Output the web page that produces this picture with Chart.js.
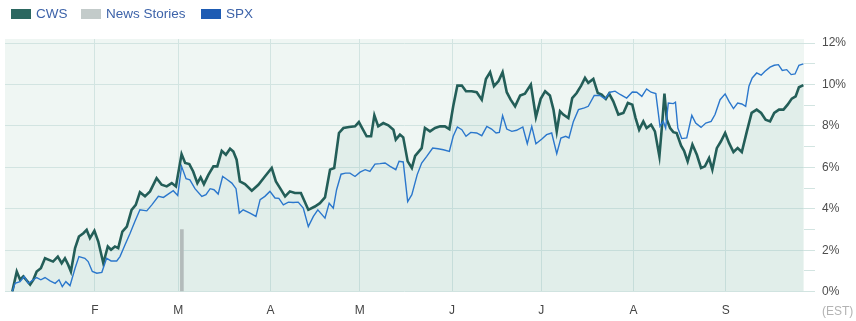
<!DOCTYPE html>
<html>
<head>
<meta charset="utf-8">
<script src="https://cdn.jsdelivr.net/npm/chart.js@4.4.1/dist/chart.umd.min.js"></script>
<style>
  body { margin: 0; background: #fff; font-family: "Liberation Sans", Arial, sans-serif; }
  #wrap { position: relative; width: 856px; height: 321px; }
  #chart { position: absolute; left: 0; top: 0; }
  .legend { position: absolute; top: 6px; left: 0; height: 16px; }
  .item { position: absolute; top: 0; font-size: 13.5px; color: #3d63a9; white-space: nowrap; }
  .item span { position: absolute; top: 3px; width: 20px; height: 10px; }
  .item b { position: absolute; top: 0; font-weight: normal; }
  #est { position: absolute; left: 822px; top: 304px; font-size: 12px; color: #b3b3b3; }
</style>
</head>
<body>
<div id="wrap">
  <canvas id="chart" width="856" height="321"></canvas>
  <div class="legend">
    <div class="item" style="left:11px"><span style="background:#2b6760"></span><b style="left:25px">CWS</b></div>
    <div class="item" style="left:81px"><span style="background:#c3cbca"></span><b style="left:25px">News Stories</b></div>
    <div class="item" style="left:201px"><span style="background:#1d5bb3"></span><b style="left:25px">SPX</b></div>
  </div>
  <div id="est">(EST)</div>
</div>
<script>
// day of year (0 = Jan 1) and % change
const cwsDays = [3.2,4.7,5.8,6.9,9.2,10.3,11.4,12.8,14.2,16.9,18.5,19.8,20.9,22.0,22.9,24.3,25.6,27.1,28.2,29.3,30.8,32.1,33.8,35.3,36.4,37.7,38.8,40.2,41.7,43.3,44.7,46.1,47.8,49.5,51.7,53.4,55.1,56.8,58.2,60.1,61.3,62.7,64.0,65.4,66.5,67.6,69.1,70.8,72.1,73.6,75.0,76.4,77.5,78.6,79.7,81.4,83.7,85.9,88.1,90.4,91.8,93.2,94.9,96.5,98.2,100.2,102.7,104.9,106.6,108.3,110.0,111.4,113.0,114.5,116.4,118.4,119.7,120.8,122.3,123.8,124.9,126.2,127.9,129.6,131.3,132.1,133.5,134.6,136.1,137.5,138.6,140.8,141.9,143.6,145.3,147.0,148.6,150.1,151.4,152.8,154.3,155.7,157.6,159.3,161.0,162.4,163.8,165.1,166.6,168.0,169.4,170.7,172.2,173.9,175.5,177.5,179.2,180.8,182.3,183.9,185.1,186.2,187.3,188.4,190.1,191.4,192.9,194.4,195.7,196.8,198.5,200.0,201.3,202.7,203.8,205.2,206.9,208.6,210.1,211.6,212.7,213.9,215.3,216.4,217.9,219.2,220.7,221.7,222.4,223.2,224.3,225.4,226.5,228.0,229.0,230.2,231.8,233.3,234.7,236.0,237.4,238.5,240.0,241.4,242.8,244.1,245.6,247.0,248.4,250.1,251.7,253.4,254.9,256.4,257.9,259.3,260.9,262.4,263.8,265.2,266.5,267.6,269.1];
const cwsValues = [0,0.97,0.58,0.73,0.34,0.58,0.97,1.13,1.61,1.45,1.69,1.37,1.61,1.29,0.97,2.1,2.66,2.82,2.98,2.58,2.94,2.42,1.37,2.18,2.02,2.18,2.1,2.9,3.14,3.95,4.19,4.8,4.6,4.84,5.48,5.16,5.08,5.24,5.08,6.64,6.21,6.16,5.8,5.24,5.52,5.19,5.64,6.05,6.05,6.8,6.61,6.9,6.77,6.37,5.32,5.19,4.87,5.16,5.56,5.97,5.32,5.0,4.6,4.84,4.76,4.76,3.95,4.11,4.27,4.55,5.89,5.97,7.66,7.9,7.95,7.98,8.19,7.9,7.5,7.5,8.51,7.98,8.14,8.03,7.82,7.34,7.58,7.45,6.29,5.97,6.55,6.93,7.9,7.74,7.9,7.98,7.98,7.85,8.95,9.95,9.95,9.68,9.68,9.63,9.27,10.27,10.6,9.92,10.16,10.6,9.63,9.27,8.95,9.47,9.56,10.0,8.43,9.31,9.68,9.47,8.79,7.74,8.71,8.55,8.38,9.35,9.59,9.95,10.32,10.08,10.27,9.59,9.52,9.31,9.56,9.19,8.55,8.63,9.11,9.03,8.38,7.82,8.22,7.9,8.06,7.74,6.53,8.22,9.56,8.3,7.9,7.7,7.66,7.05,6.8,6.29,7.1,6.61,5.97,6.05,6.45,5.89,6.93,7.26,7.66,7.18,6.74,6.93,6.74,7.74,8.63,8.79,8.63,8.3,8.22,8.63,8.79,8.79,9.03,9.32,9.43,9.87,9.97];
const spxDays = [3.2,4.1,5.8,7.2,8.6,10.3,11.4,12.8,14.2,15.9,17.6,18.9,20.0,21.2,22.6,24.3,25.6,27.6,28.7,30.1,31.6,33.3,34.9,36.4,38.3,39.4,41.1,42.8,44.4,46.1,48.4,50.1,52.3,54.0,55.6,57.3,58.8,60.1,61.6,62.9,64.6,66.9,68.3,69.7,71.0,72.4,73.9,75.5,77.0,78.4,79.5,80.8,83.1,85.1,86.5,88.1,89.8,91.5,92.8,94.3,96.0,97.6,99.3,101.0,102.7,104.4,105.9,108.3,109.7,111.1,112.2,113.7,115.2,116.7,118.4,120.1,121.8,123.4,125.1,126.8,128.5,130.2,132.1,133.2,134.6,136.1,137.5,139.3,140.8,142.5,144.5,146.3,148.1,150.1,151.4,152.8,154.3,155.7,157.3,159.3,161.0,162.7,164.3,165.8,166.9,168.0,169.4,171.1,172.7,174.8,176.3,177.8,179.2,181.2,182.8,184.5,186.2,187.6,189.2,190.3,191.8,193.5,195.5,196.8,198.8,200.7,202.4,204.1,205.8,207.5,209.7,211.6,213.1,214.8,216.4,217.9,219.5,220.9,222.0,222.8,223.7,225.4,226.1,226.9,228.2,229.9,231.6,232.9,234.7,236.3,238.1,239.4,241.1,242.8,244.1,245.6,247.0,248.4,249.7,250.8,251.9,253.4,254.9,256.2,257.9,259.3,260.7,262.0,263.5,265.0,266.3,267.6,269.1];
const spxValues = [0,0.4,0.48,0.73,0.4,0.57,0.68,0.57,0.68,0.52,0.4,0.57,0.24,0.48,0.29,1.13,1.69,1.61,1.45,0.97,0.89,0.93,1.61,1.48,1.48,1.69,2.26,2.82,3.39,3.95,3.9,4.19,4.6,4.55,4.71,4.87,4.64,6.05,5.45,5.4,4.97,4.6,4.68,4.97,4.92,4.71,5.56,5.4,5.24,4.97,3.79,3.95,3.79,3.63,4.44,4.6,4.84,4.52,4.5,4.19,4.32,4.3,4.32,4.03,3.14,3.63,3.95,3.55,4.27,4.03,4.92,5.67,5.72,5.72,5.56,5.77,5.89,5.8,6.16,6.18,6.21,6.05,5.89,6.29,6.26,4.35,4.68,5.65,6.21,6.53,6.93,6.9,6.85,6.77,7.5,7.95,7.82,7.5,7.69,7.66,7.53,7.98,7.85,7.66,7.69,8.5,7.85,7.74,7.79,7.95,7.14,7.98,7.14,7.37,7.58,7.66,6.66,7.42,7.5,7.42,8.22,8.79,8.87,8.95,9.47,9.47,9.31,9.63,9.68,9.52,9.35,9.64,9.63,9.43,9.79,9.63,9.56,7.98,8.22,7.9,9.11,9.08,9.15,7.9,7.39,7.42,8.51,8.14,7.93,8.14,8.22,8.55,9.27,9.55,9.19,8.84,9.11,9.06,8.95,9.92,10.32,10.56,10.45,10.64,10.84,10.93,10.96,10.68,10.72,10.48,10.51,10.93,11.0];
const newsDays = [60.2];
const newsValues = [3.0];
const monthTicks = [31, 59, 90, 120, 151, 181, 212, 243];
const monthLabels = ["F", "M", "A", "M", "J", "J", "A", "S"];
const pctTicks = [0,1,2,3,4,5,6,7,8,9,10,11,12];

const gridColor = "#d2e4e1";

const toPoints = (xs, ys) => xs.map((x, i) => ({ x: x, y: ys[i] }));

const plotBg = {
  id: "plotBg",
  beforeDraw(chart) {
    const a = chart.chartArea;
    const c = chart.ctx;
    c.save();
    c.fillStyle = "#eff6f3";
    c.fillRect(a.left, a.top, a.right - a.left, a.bottom - a.top);
    c.restore();
  }
};

new Chart(document.getElementById("chart"), {
  type: "line",
  data: {
    datasets: [
      {
        label: "SPX",
        data: toPoints(spxDays, spxValues),
        borderColor: "#2b77cc",
        borderWidth: 1.4,
        pointRadius: 0,
        tension: 0,
        fill: false
      },
      {
        label: "CWS",
        data: toPoints(cwsDays, cwsValues),
        borderColor: "#235e58",
        borderWidth: 2.6,
        pointRadius: 0,
        tension: 0,
        fill: "origin",
        backgroundColor: "rgba(40,135,125,0.07)"
      },
      {
        type: "bar",
        label: "News Stories",
        data: toPoints(newsDays, newsValues),
        backgroundColor: "#b3bbbb",
        barThickness: 3
      }
    ]
  },
  options: {
    responsive: false,
    animation: false,
    devicePixelRatio: 1,
    layout: { padding: { left: 5, top: 39, right: 3, bottom: 3 } },
    plugins: {
      legend: { display: false },
      tooltip: { enabled: false },
      filler: { drawTime: "beforeDatasetsDraw" }
    },
    scales: {
      x: {
        type: "linear",
        offset: false,
        min: 0.75,
        max: 269.3,
        afterBuildTicks: (scale) => { scale.ticks = monthTicks.map(v => ({ value: v })); },
        ticks: {
          callback: (v, i) => monthLabels[i],
          autoSkip: false,
          maxRotation: 0,
          padding: 0,
          color: "#444",
          font: { family: "Liberation Sans", size: 12 }
        },
        grid: { offset: false, color: gridColor, tickLength: 12, tickColor: "transparent" },
        border: { display: false }
      },
      y: {
        position: "right",
        min: 0,
        max: 12.2,
        afterBuildTicks: (scale) => { scale.ticks = pctTicks.map(v => ({ value: v })); },
        ticks: {
          callback: (v) => (v % 2 === 0 ? v + "%" : ""),
          padding: 7,
          color: "#4d4d4d",
          font: { family: "Liberation Sans", size: 12 }
        },
        grid: {
          color: (ctx) => (ctx.tick && ctx.tick.value % 2 === 0 ? gridColor : "transparent"),
          tickColor: gridColor,
          tickLength: 11
        },
        border: { display: false }
      }
    }
  },
  plugins: [plotBg]
});
</script>
</body>
</html>
